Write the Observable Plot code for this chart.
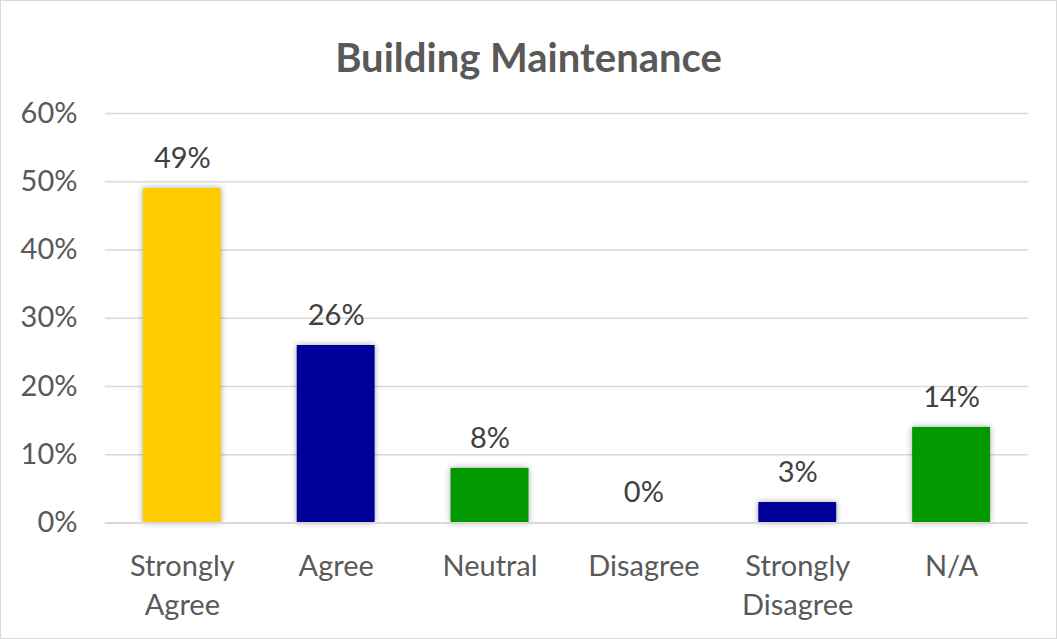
<!DOCTYPE html>
<html>
<head>
<meta charset="utf-8">
<script src="https://cdn.jsdelivr.net/npm/d3@7"></script>
<script src="https://cdn.jsdelivr.net/npm/@observablehq/plot@0.6"></script>
<style>
  html, body { margin: 0; padding: 0; background: #fff; }
  #chart { position: relative; width: 1057px; height: 639px; box-sizing: border-box; border: 1px solid #d9d9d9; overflow: hidden; }
  #title { position: absolute; left: 0; right: 0; top: 32px; text-align: center; font-family: Lato, "Open Sans", sans-serif; font-weight: bold; font-size: 40px; color: #595959; line-height: 48px; }
  #plot { position: absolute; left: -1px; top: -1px; }
  svg { font-family: Lato, "Open Sans", sans-serif; }
</style>
</head>
<body>
<div id="chart">
  <div id="title">Building Maintenance</div>
  <div id="plot"></div>
</div>
<script>
const categories = ["Strongly Agree", "Agree", "Neutral", "Disagree", "Strongly Disagree", "N/A"];
const categoryLabels = ["Strongly\nAgree", "Agree", "Neutral", "Disagree", "Strongly\nDisagree", "N/A"];
const values = [0.49, 0.26, 0.08, 0.00, 0.03, 0.14];
const barColors = ["#FFCC00", "#000099", "#009900", "#000099", "#000099", "#009900"];
const yTicks = [0, 0.1, 0.2, 0.3, 0.4, 0.5, 0.6];

const data = categories.map((c, i) => ({category: c, value: values[i], color: barColors[i], label: categoryLabels[i]}));
const labelOf = new Map(categories.map((c, i) => [c, categoryLabels[i]]));
const pct = d3.format(".0%");

const plot = Plot.plot({
  width: 1057,
  height: 639,
  marginTop: 113,
  marginBottom: 116,
  marginLeft: 105,
  marginRight: 28,
  style: {fontSize: "29px", color: "#595959", background: "transparent"},
  x: {domain: categories, paddingInner: 0.494, paddingOuter: 0.247, label: null},
  y: {domain: [0, 0.6], label: null},
  marks: [
    Plot.gridY(yTicks, {stroke: "#d9d9d9", strokeOpacity: 1, strokeWidth: 1.5}),
    Plot.barY(data, {x: "category", y: "value", fill: "color", imageFilter: "drop-shadow(0px 0px 3px rgba(0,0,0,0.35))"}),
    Plot.ruleY([0], {stroke: "#d9d9d9", strokeWidth: 2}),
    Plot.text(data, {x: "category", y: "value", text: d => pct(d.value), dy: -30, fill: "#404040", fontSize: 29}),
    Plot.axisY({ticks: yTicks, tickFormat: pct, tickSize: 0, tickPadding: 28, fill: "#595959", fontSize: 29}),
    Plot.axisX({tickSize: 0, tickPadding: 26, tickFormat: c => labelOf.get(c), lineHeight: 1.33, fill: "#595959", fontSize: 29, textAnchor: "middle", lineAnchor: "top"})
  ]
});
document.getElementById("plot").appendChild(plot);
</script>
</body>
</html>
